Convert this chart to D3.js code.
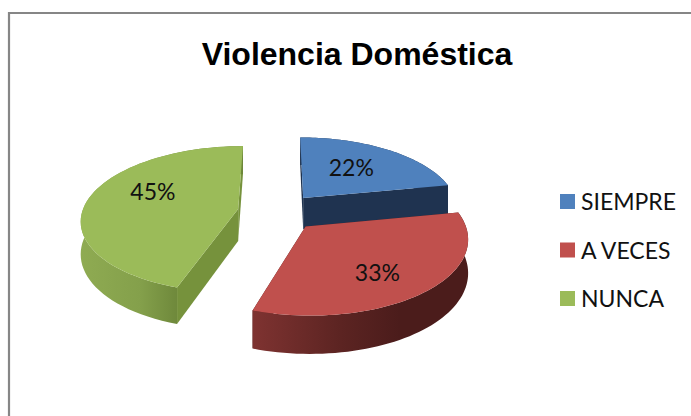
<html>
  <head>
    <title>Violencia Domestica</title>
    <style>
      body { margin: 0; background: #fff; }
      svg { display: block; }
      .title { font: bold 32px "Liberation Sans", sans-serif; text-anchor: middle; fill: #000; }
      .label { font: 23px Lato, sans-serif; text-anchor: middle; fill: #111; }
      .legend text { font: 23px Lato, sans-serif; fill: #111; }
    </style>
    <script src="https://d3js.org/d3.v7.min.js"></script>
  </head>
  <body>
    <svg class="chart"></svg>
    <script>
var categories = ["SIEMPRE", "A VECES", "NUNCA"];
var values = [22, 33, 45];
var topColors = ["#4f81bd", "#c0504d", "#9bbb59"];
var wallColors = ["#1f3350", "#4f1e1d", "#76923c"];

var width = 691,
    height = 416;

var svg = d3.select(".chart")
    .attr("width", width)
    .attr("height", height);

// frame, only top and left survive in the crop
svg.append("path")
    .attr("d", "M9,416V13H691")
    .attr("fill", "none")
    .attr("stroke", "#868686")
    .attr("stroke-width", 2.2);

svg.append("text")
    .attr("class", "title")
    .attr("x", 357)
    .attr("y", 65)
    .text("Violencia Doméstica");

// fake 3d: unit disc, y goes to the back, w is the perspective
var cx = 278, cy = 212, rx = 156, ry = 72.4, k = 0.138, depth = 32, explode = 0.26;

function project(X, Y, z) {
  var w = 1 / (1 + k * Y);
  return [cx + X * rx * w, cy - Y * ry * w + z * depth * w];
}

var pie = d3.pie().sort(null).value(function(d) { return d; });
var arcs = pie(values);

arcs.forEach(function(a) {
  var mid = (a.startAngle + a.endAngle) / 2;
  a.ox = explode * Math.sin(mid);
  a.oy = explode * Math.cos(mid);
  a.mid = mid;
});

function rim(a, t0, t1, z) {
  return d3.range(0, 61).map(function(i) {
    var t = t0 + (t1 - t0) * i / 60;
    return project(a.ox + Math.sin(t), a.oy + Math.cos(t), z);
  });
}

var line = d3.line();

var defs = svg.append("defs");

function gradient(id, x1, x2, stops) {
  var g = defs.append("linearGradient")
      .attr("id", id)
      .attr("gradientUnits", "userSpaceOnUse")
      .attr("x1", x1).attr("x2", x2).attr("y1", 0).attr("y2", 0);
  stops.forEach(function(s) {
    g.append("stop").attr("offset", s[0]).attr("stop-color", s[1]);
  });
}

gradient("wall0", 300, 450, [[0, "#1f3350"], [1, "#1f3350"]]);
gradient("wall1", 251, 400, [[0, "#7f3331"], [0.6, "#5c2422"], [1, "#4b1c1b"]]);
gradient("wall2", 80, 180, [[0, "#8fab52"], [0.6, "#84a04b"], [1, "#6d873a"]]);

// back to front
[0, 2, 1].forEach(function(i) {
  var a = arcs[i];
  var g = svg.append("g");
  var apexTop = project(a.ox, a.oy, 0),
      apexBottom = project(a.ox, a.oy, 1);

  [a.startAngle, a.endAngle].forEach(function(t) {
    var edgeTop = project(a.ox + Math.sin(t), a.oy + Math.cos(t), 0),
        edgeBottom = project(a.ox + Math.sin(t), a.oy + Math.cos(t), 1);
    g.append("path")
        .attr("d", line([apexTop, edgeTop, edgeBottom, apexBottom]) + "Z")
        .attr("fill", wallColors[i]);
  });

  g.append("path")
      .attr("d", line(rim(a, a.startAngle, a.endAngle, 0).concat(rim(a, a.endAngle, a.startAngle, 1))) + "Z")
      .attr("fill", "url(#wall" + i + ")");

  g.append("path")
      .attr("d", line([apexTop].concat(rim(a, a.startAngle, a.endAngle, 0))) + "Z")
      .attr("fill", topColors[i]);
});

var total = d3.sum(values);
var labelNudge = [[-5, 0], [2, 10], [5, -10]];

arcs.forEach(function(a, i) {
  var p = project(a.ox + 0.6 * Math.sin(a.mid), a.oy + 0.6 * Math.cos(a.mid), 0);
  svg.append("text")
      .attr("class", "label")
      .attr("x", p[0] + labelNudge[i][0])
      .attr("y", p[1] + labelNudge[i][1] + 8)
      .text(Math.round(a.value / total * 100) + "%");
});

var legendY = d3.scalePoint().domain(categories).range([194, 291]);

var legend = svg.append("g")
    .attr("class", "legend")
    .selectAll("g")
    .data(categories)
  .enter().append("g")
    .attr("transform", function(d) { return "translate(560," + legendY(d) + ")"; });

legend.append("rect")
    .attr("width", 15)
    .attr("height", 15)
    .attr("fill", function(d, i) { return topColors[i]; });

legend.append("text")
    .attr("x", 21)
    .attr("y", 16)
    .text(function(d) { return d; });
    </script>
  </body>
</html>
